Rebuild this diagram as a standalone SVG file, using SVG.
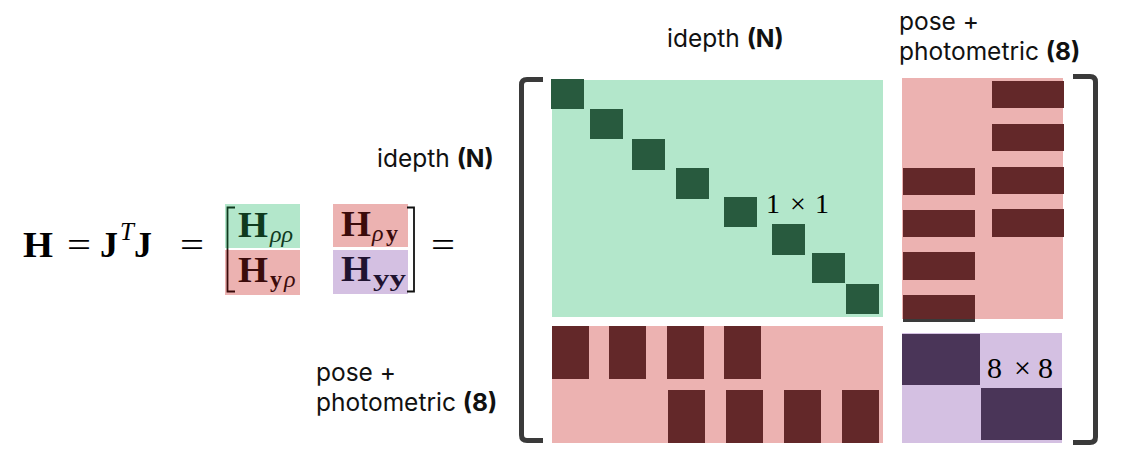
<svg xmlns="http://www.w3.org/2000/svg" width="1122" height="457" viewBox="0 0 1122 457">
  <style>
    .lbl { font-family: Inter, "Noto Sans", sans-serif; font-size: 24.5px; fill: #111; }
    .b { font-weight: bold; }
    .m { font-family: "Liberation Serif", "DejaVu Serif", serif; fill: #000; }
    .mb { font-family: "Liberation Serif", "DejaVu Serif", serif; font-weight: bold; }
    .mi { font-family: "Liberation Serif", "DejaVu Serif", serif; font-style: italic; }
    .lg { fill: #b3e7cb; }
    .dg { fill: #285a3e; }
    .lp { fill: #ecb2b1; }
    .dr { fill: #632829; }
    .lv { fill: #d4c0e2; }
    .dv { fill: #4a3558; }
    .brk { fill: none; stroke: #3a3a3a; stroke-width: 5; }
  </style>

  <!-- Equation -->
  <g id="equation">
    <text class="mb" x="23" y="257" font-size="36" textLength="30" lengthAdjust="spacingAndGlyphs">H</text>
    <text class="m" x="67" y="257" font-size="36" textLength="24" lengthAdjust="spacingAndGlyphs">=</text>
    <text class="mb" x="100" y="257" font-size="36">J</text>
    <text class="mi" x="120" y="240" font-size="25">T</text>
    <text class="mb" x="134" y="257" font-size="36">J</text>
    <text class="m" x="180" y="257" font-size="36" textLength="24" lengthAdjust="spacingAndGlyphs">=</text>
    <text class="m" x="431" y="257" font-size="36" textLength="24" lengthAdjust="spacingAndGlyphs">=</text>
  </g>

  <g id="small-matrix">
    <rect class="lg" x="225" y="204" width="75" height="44"/>
    <rect class="lp" x="225" y="250" width="75" height="45"/>
    <rect class="lp" x="333" y="204" width="75" height="43"/>
    <rect class="lv" x="333" y="250" width="75" height="44"/>
    <path d="M235,207.5 H227.5 V249" fill="none" stroke="#0f3a1e" stroke-width="1.8"/>
    <path d="M227.5,249 V291.5 H235" fill="none" stroke="#3b0b0b" stroke-width="1.8"/>
    <path d="M407,207.5 H414 V291.5 H407" fill="none" stroke="#111" stroke-width="1.8"/>
    <g fill="#0f3a1e">
      <text class="mb" x="238" y="237" font-size="35" textLength="30" lengthAdjust="spacingAndGlyphs">H</text>
      <text class="mi" x="270" y="242" font-size="24">ρρ</text>
    </g>
    <g fill="#3b0b0b">
      <text class="mb" x="238" y="282" font-size="35" textLength="30" lengthAdjust="spacingAndGlyphs">H</text>
      <text class="mb" x="270" y="287" font-size="24">y</text>
      <text class="mi" x="284" y="287" font-size="24">ρ</text>
    </g>
    <g fill="#3b0b0b">
      <text class="mb" x="341" y="236" font-size="35" textLength="30" lengthAdjust="spacingAndGlyphs">H</text>
      <text class="mi" x="372" y="241" font-size="24">ρ</text>
      <text class="mb" x="386" y="241" font-size="24">y</text>
    </g>
    <g fill="#1f1330">
      <text class="mb" x="341" y="281" font-size="35" textLength="30" lengthAdjust="spacingAndGlyphs">H</text>
      <text class="mb" x="373" y="286" font-size="24" textLength="33" lengthAdjust="spacingAndGlyphs">yy</text>
    </g>
  </g>

  <!-- Labels -->
  <g id="labels">
    <text class="lbl" x="667" y="47">idepth <tspan class="b">(N)</tspan></text>
    <text class="lbl" x="377" y="167">idepth <tspan class="b">(N)</tspan></text>
    <text class="lbl" x="899" y="30">pose +<tspan x="899" dy="30">photometric </tspan><tspan class="b">(8)</tspan></text>
    <text class="lbl" x="316" y="381">pose +<tspan x="316" dy="30">photometric </tspan><tspan class="b">(8)</tspan></text>
  </g>

  <!-- Big matrix brackets -->
  <g id="brackets">
    <path class="brk" d="M543,79.5 H527 Q521.5,79.5 521.5,85 V435 Q521.5,440.5 527,440.5 H543"/>
    <path class="brk" d="M1073,76.5 H1090 Q1095.5,76.5 1095.5,82 V437 Q1095.5,442.5 1090,442.5 H1073"/>
  </g>

  <!-- idepth-idepth block -->
  <g id="block-rho-rho">
    <rect class="lg" x="552" y="80" width="331" height="237"/>
    <rect class="dg" x="551" y="79" width="33" height="30"/>
    <rect class="dg" x="590" y="109" width="33" height="30"/>
    <rect class="dg" x="632" y="139" width="33" height="31"/>
    <rect class="dg" x="676" y="168" width="33" height="31"/>
    <rect class="dg" x="724" y="197" width="33" height="30"/>
    <rect class="dg" x="772" y="224" width="33" height="31"/>
    <rect class="dg" x="812" y="253" width="33" height="30"/>
    <rect class="dg" x="846" y="284" width="33" height="30"/>
    <text class="m" y="213" font-size="28"><tspan x="766">1</tspan><tspan x="790">×</tspan><tspan x="815">1</tspan></text>
  </g>

  <!-- idepth-pose block -->
  <g id="block-rho-y">
    <rect class="lp" x="902" y="78" width="161" height="241"/>
    <rect class="dr" x="992" y="81" width="72" height="27"/>
    <rect class="dr" x="992" y="124" width="72" height="27"/>
    <rect class="dr" x="992" y="167" width="72" height="27"/>
    <rect class="dr" x="992" y="209" width="72" height="28"/>
    <rect class="dr" x="903" y="168" width="72" height="27"/>
    <rect class="dr" x="903" y="210" width="72" height="27"/>
    <rect class="dr" x="903" y="252" width="72" height="28"/>
    <rect class="dr" x="903" y="295" width="72" height="24"/>
    <rect x="903" y="319" width="72" height="3" fill="#3a3a3a"/>
  </g>

  <!-- pose-idepth block -->
  <g id="block-y-rho">
    <rect class="lp" x="552" y="326" width="331" height="117"/>
    <rect class="dr" x="552" y="326" width="37" height="53"/>
    <rect class="dr" x="609" y="326" width="37" height="53"/>
    <rect class="dr" x="667" y="326" width="37" height="53"/>
    <rect class="dr" x="724" y="326" width="37" height="53"/>
    <rect class="dr" x="668" y="390" width="37" height="53"/>
    <rect class="dr" x="726" y="390" width="37" height="53"/>
    <rect class="dr" x="784" y="390" width="37" height="53"/>
    <rect class="dr" x="842" y="390" width="37" height="53"/>
  </g>

  <!-- pose-pose block -->
  <g id="block-y-y">
    <rect class="lv" x="902" y="333" width="160" height="110"/>
    <rect class="dv" x="902" y="334" width="78" height="51"/>
    <rect class="dv" x="981" y="388" width="81" height="52"/>
    <text class="m" y="378" font-size="30"><tspan x="987">8</tspan><tspan x="1014">×</tspan><tspan x="1038">8</tspan></text>
  </g>
</svg>
